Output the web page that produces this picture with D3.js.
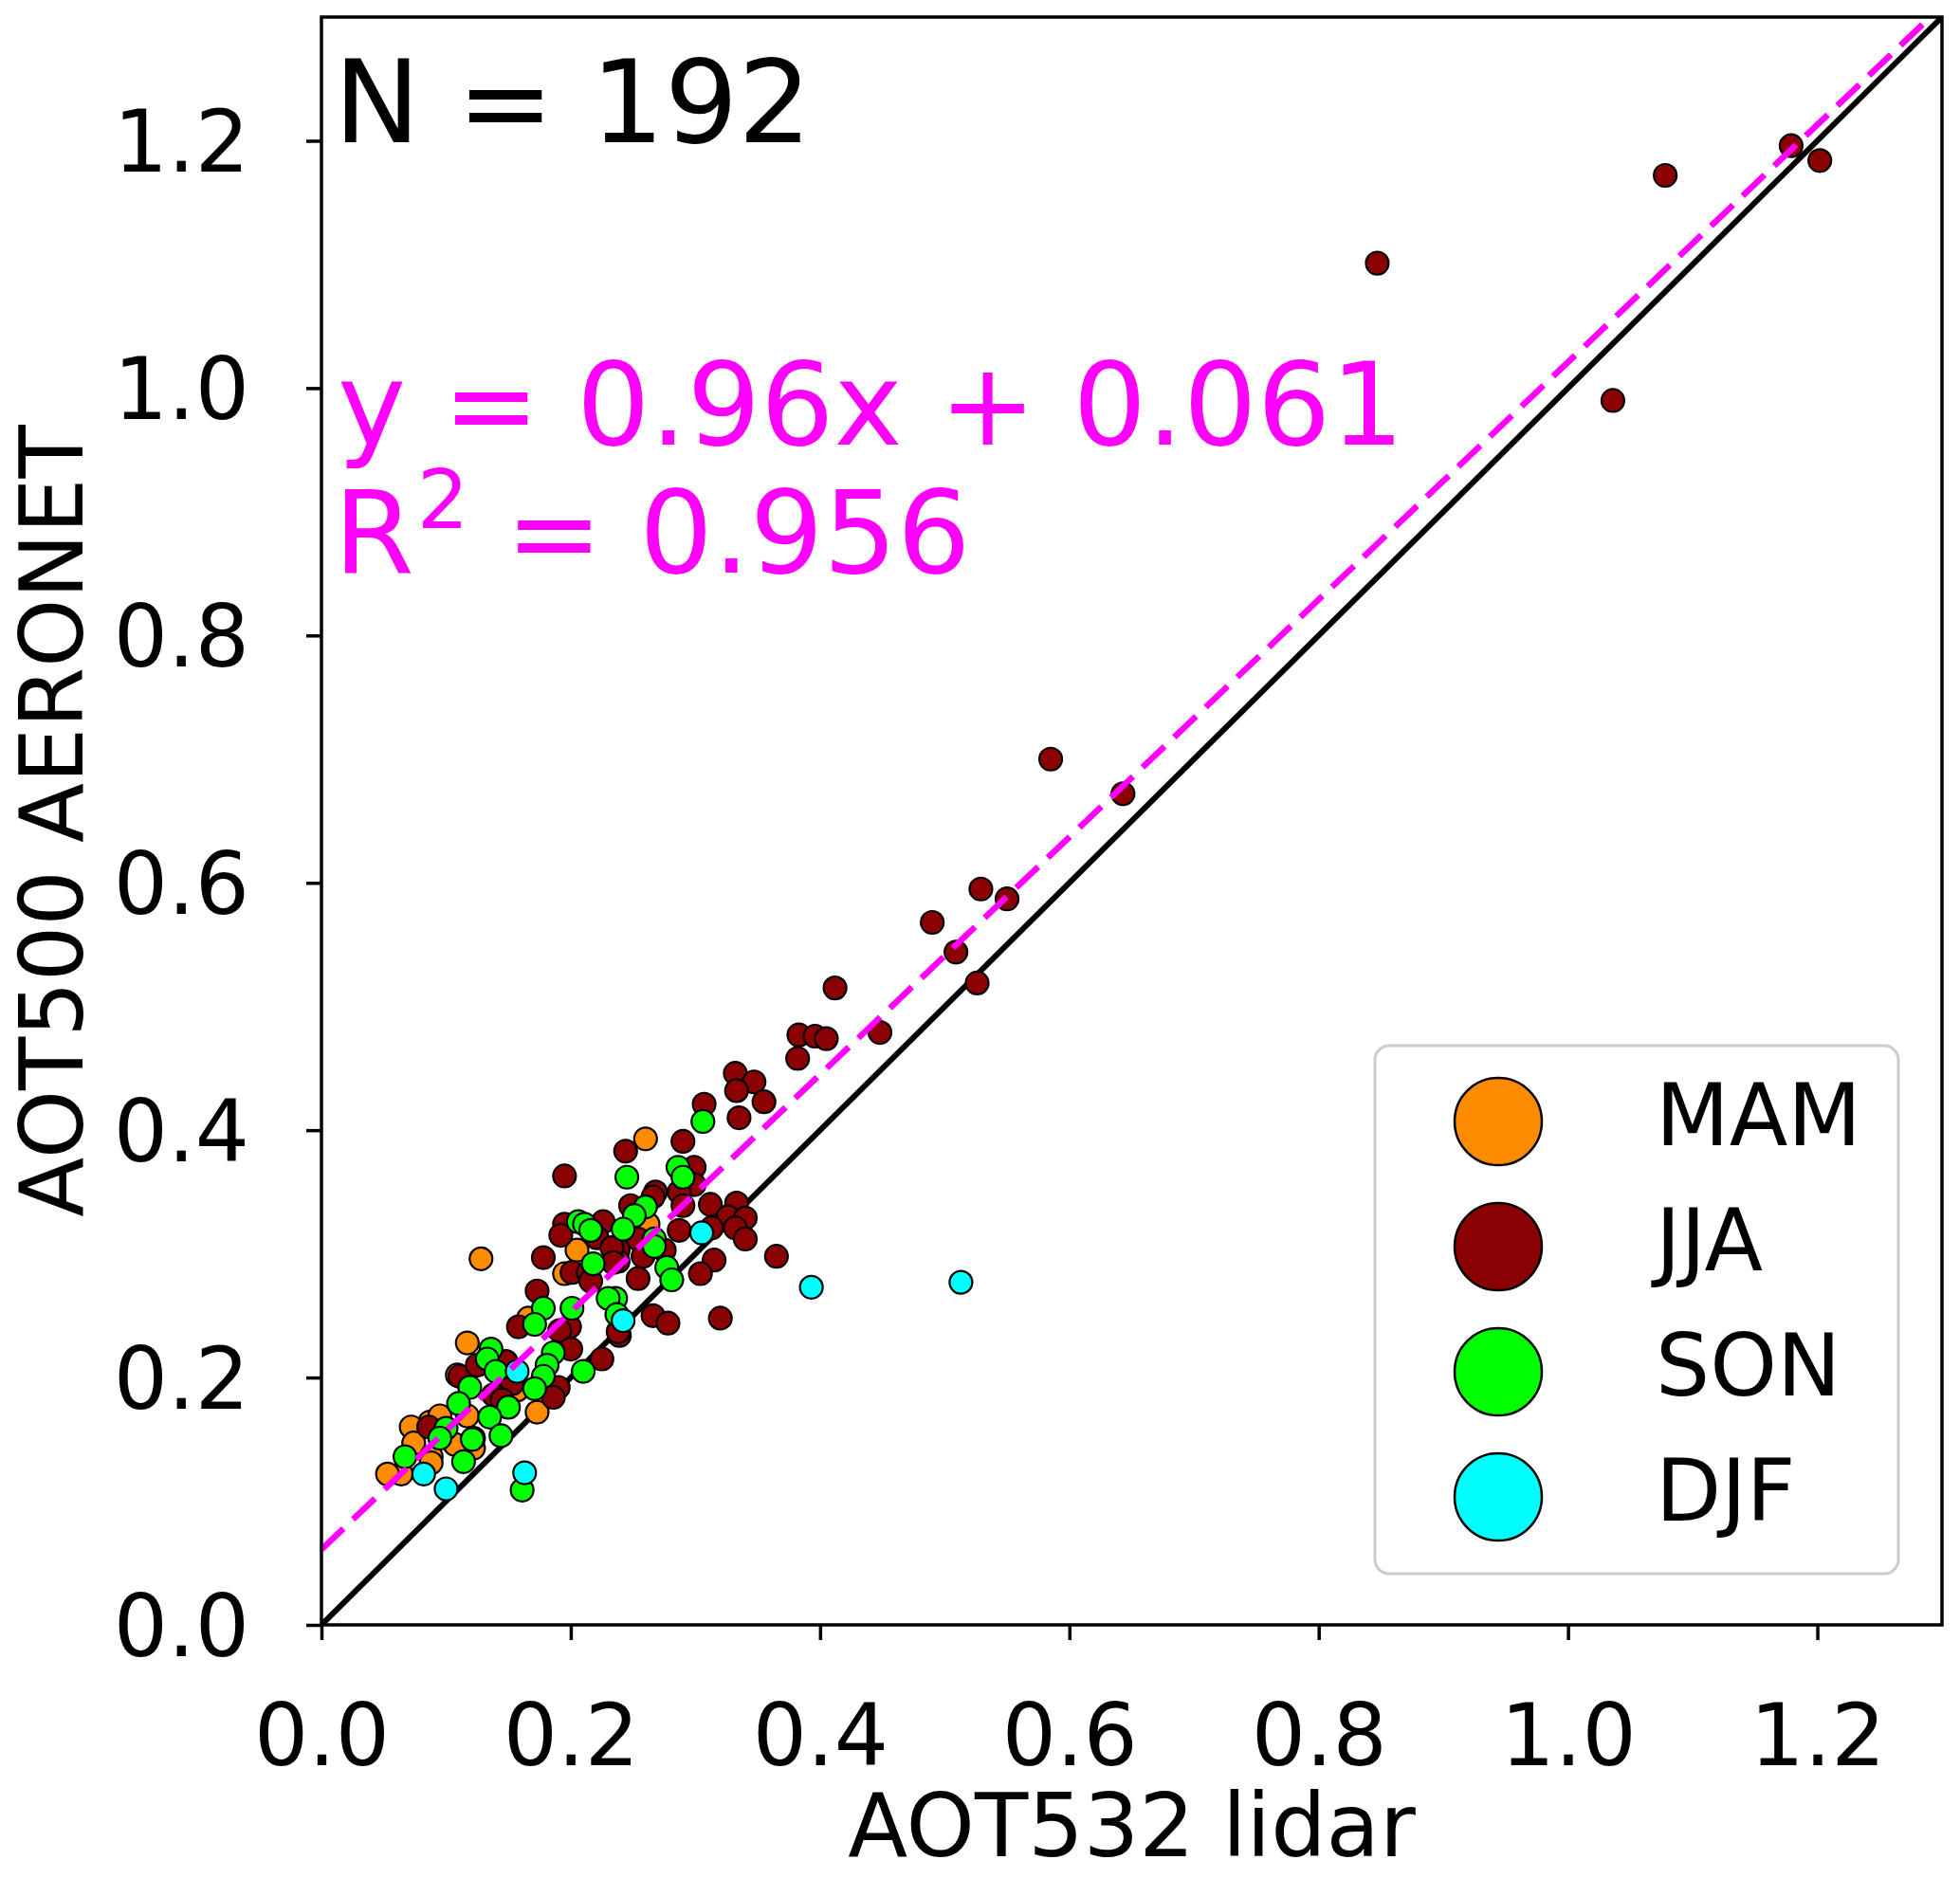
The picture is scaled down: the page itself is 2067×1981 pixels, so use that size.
<!DOCTYPE html>
<html>
<head>
<meta charset="utf-8">
<script src="https://cdn.jsdelivr.net/npm/d3@7"></script>
<style>
  html, body { margin: 0; padding: 0; background: #fff; }
  svg { display: block; font-family: "DejaVu Sans", sans-serif; }
</style>
</head>
<body>
<svg id="chart" width="2067" height="1981"></svg>
<script>
// ---------------- data ----------------
const seasons = ["MAM", "JJA", "SON", "DJF"];
const seasonColors = ["#ff8c00", "#8b0000", "#00ff00", "#00ffff"];
const tickValues = [0.0, 0.2, 0.4, 0.6, 0.8, 1.0, 1.2];
const fitSlope = 0.96;
const fitIntercept = 0.061;
const nText = "N = 192";
const fitText = "y = 0.96x + 0.061";
const r2Text = " = 0.956";
const xLabel = "AOT532 lidar";
const yLabel = "AOT500 AERONET";

// [AOT532 lidar, AOT500 AERONET]
const mam = [
  [0.260,0.393],[0.262,0.324],[0.128,0.296],[0.205,0.303],[0.195,0.284],[0.166,0.248],
  [0.153,0.207],[0.157,0.190],[0.173,0.172],[0.109,0.202],[0.117,0.169],[0.122,0.143],
  [0.087,0.164],[0.095,0.169],[0.072,0.160],[0.074,0.147],[0.107,0.146],[0.088,0.136],
  [0.088,0.131],[0.064,0.122],[0.053,0.122],[0.117,0.228]
];
const jja = [
  [0.383,0.477],[0.396,0.476],[0.405,0.474],[0.448,0.479],[0.382,0.458],[0.332,0.446],
  [0.347,0.439],[0.333,0.432],[0.355,0.423],[0.307,0.421],[0.335,0.410],[0.290,0.391],
  [0.244,0.383],[0.299,0.370],[0.299,0.356],[0.287,0.350],[0.268,0.350],[0.266,0.346],
  [0.290,0.339],[0.312,0.340],[0.333,0.341],[0.248,0.339],[0.326,0.330],[0.340,0.329],
  [0.332,0.321],[0.340,0.312],[0.313,0.321],[0.287,0.319],[0.275,0.303],[0.254,0.312],
  [0.258,0.298],[0.238,0.303],[0.238,0.294],[0.254,0.280],[0.315,0.295],[0.304,0.284],
  [0.365,0.298],[0.320,0.248],[0.266,0.250],[0.278,0.244],[0.239,0.234],
  [0.195,0.363],[0.178,0.297],[0.195,0.324],[0.192,0.315],[0.226,0.326],[0.221,0.313],
  [0.233,0.305],[0.234,0.293],[0.201,0.285],[0.214,0.285],[0.216,0.278],[0.173,0.270],
  [0.158,0.241],[0.199,0.241],[0.191,0.238],[0.238,0.237],[0.225,0.215],[0.200,0.223],
  [0.190,0.192],[0.186,0.184],[0.148,0.213],[0.153,0.195],[0.138,0.186],[0.145,0.182],
  [0.111,0.201],[0.125,0.210],[0.122,0.151],[0.086,0.160],
  [1.179,1.196],[1.202,1.184],[1.078,1.172],[0.847,1.101],[1.036,0.990],[0.585,0.700],
  [0.643,0.672],[0.529,0.595],[0.550,0.587],[0.490,0.568],[0.509,0.544],[0.526,0.519],
  [0.412,0.515]
];
const son = [
  [0.306,0.407],[0.245,0.362],[0.286,0.370],[0.290,0.362],[0.260,0.338],[0.251,0.331],
  [0.242,0.320],[0.267,0.312],[0.267,0.306],[0.277,0.289],[0.281,0.279],[0.236,0.264],
  [0.206,0.326],[0.211,0.324],[0.216,0.319],[0.218,0.292],[0.178,0.256],[0.171,0.243],
  [0.201,0.256],[0.230,0.264],[0.237,0.251],[0.210,0.205],[0.186,0.220],[0.181,0.210],
  [0.178,0.201],[0.171,0.191],[0.150,0.176],[0.136,0.223],[0.133,0.215],[0.140,0.205],
  [0.119,0.192],[0.110,0.179],[0.135,0.168],[0.121,0.150],[0.144,0.153],[0.114,0.132],
  [0.100,0.159],[0.095,0.151],[0.067,0.136],[0.161,0.109]
];
const djf = [
  [0.305,0.317],[0.393,0.273],[0.242,0.246],[0.513,0.277],[0.157,0.205],[0.082,0.122],
  [0.100,0.110],[0.163,0.123]
];
const seriesData = [mam, jja, son, djf];

// ---------------- layout ----------------
const plot = { left: 339, right: 2048, top: 18, bottom: 1714 };
const svg = d3.select("#chart");

const x = d3.scaleLinear().domain([0, 1.3]).range([plot.left, plot.right]);
const y = d3.scaleLinear().domain([0, 1.3]).range([plot.bottom, plot.top]);

svg.append("defs").append("clipPath").attr("id", "clip")
  .append("rect")
  .attr("x", plot.left).attr("y", plot.top)
  .attr("width", plot.right - plot.left).attr("height", plot.bottom - plot.top);

const fmt = d3.format(".1f");
const tickFont = 90;

// x axis
const gx = svg.append("g").attr("transform", `translate(0,${plot.bottom})`)
  .call(d3.axisBottom(x).tickValues(tickValues).tickFormat(fmt)
        .tickSize(16).tickSizeOuter(0).tickPadding(68));
gx.select(".domain").remove();
gx.selectAll(".tick line").attr("stroke", "#000").attr("stroke-width", 3.5);
gx.selectAll(".tick text").attr("font-size", tickFont).attr("fill", "#000")
  .attr("font-family", "DejaVu Sans");

// y axis
const gy = svg.append("g").attr("transform", `translate(${plot.left},0)`)
  .call(d3.axisLeft(y).tickValues(tickValues).tickFormat(fmt)
        .tickSize(16).tickSizeOuter(0).tickPadding(60));
gy.select(".domain").remove();
gy.selectAll(".tick line").attr("stroke", "#000").attr("stroke-width", 3.5);
gy.selectAll(".tick text").attr("font-size", tickFont).attr("fill", "#000")
  .attr("font-family", "DejaVu Sans").attr("dy", "0.36em");

// axis labels
svg.append("text")
  .attr("x", (plot.left + plot.right) / 2).attr("y", 1958)
  .attr("text-anchor", "middle").attr("font-size", 92).attr("fill", "#000")
  .text(xLabel);
svg.append("text")
  .attr("transform", `translate(87,${(plot.top + plot.bottom) / 2}) rotate(-90)`)
  .attr("text-anchor", "middle").attr("font-size", 92).attr("fill", "#000")
  .text(yLabel);

// plot content
const content = svg.append("g").attr("clip-path", "url(#clip)");

// 1:1 line
content.append("line")
  .attr("x1", x(0)).attr("y1", y(0)).attr("x2", x(1.3)).attr("y2", y(1.3))
  .attr("stroke", "#000").attr("stroke-width", 6);

// points
seriesData.forEach((pts, i) => {
  content.append("g").selectAll("circle").data(pts).enter().append("circle")
    .attr("cx", d => x(d[0])).attr("cy", d => y(d[1])).attr("r", 12)
    .attr("fill", seasonColors[i]).attr("stroke", "#000").attr("stroke-width", 2.2);
});

// fit line
content.append("line")
  .attr("x1", x(0)).attr("y1", y(fitIntercept))
  .attr("x2", x(1.3)).attr("y2", y(fitSlope * 1.3 + fitIntercept))
  .attr("stroke", "#ff00ff").attr("stroke-width", 6.5)
  .attr("stroke-dasharray", "32,14");

// frame
svg.append("rect")
  .attr("x", plot.left).attr("y", plot.top)
  .attr("width", plot.right - plot.left).attr("height", plot.bottom - plot.top)
  .attr("fill", "none").attr("stroke", "#000").attr("stroke-width", 3.5);

// annotations
svg.append("text").attr("x", 352).attr("y", 150)
  .attr("font-size", 122).attr("fill", "#000").text(nText);
svg.append("text").attr("x", 356).attr("y", 469)
  .attr("font-size", 122).attr("fill", "#ff00ff").text(fitText);
const r2 = svg.append("text").attr("x", 352).attr("y", 604)
  .attr("font-size", 122).attr("fill", "#ff00ff");
r2.append("tspan").text("R");
r2.append("tspan").attr("dx", 3).attr("dy", -47).attr("font-size", 86).text("2");
r2.append("tspan").attr("dy", 47).text(r2Text);

// legend
const lg = svg.append("g");
lg.append("rect")
  .attr("x", 1450).attr("y", 1103).attr("width", 552).attr("height", 557)
  .attr("rx", 15).attr("ry", 15)
  .attr("fill", "#fff").attr("fill-opacity", 0.8)
  .attr("stroke", "#cccccc").attr("stroke-width", 3);
seasons.forEach((s, i) => {
  const cy = 1183 + i * 132;
  lg.append("circle").attr("cx", 1580).attr("cy", cy).attr("r", 46)
    .attr("fill", seasonColors[i]).attr("stroke", "#000").attr("stroke-width", 2.5);
  lg.append("text").attr("x", 1746).attr("y", cy + 25)
    .attr("font-size", 90).attr("fill", "#000").text(s);
});
</script>
</body>
</html>
